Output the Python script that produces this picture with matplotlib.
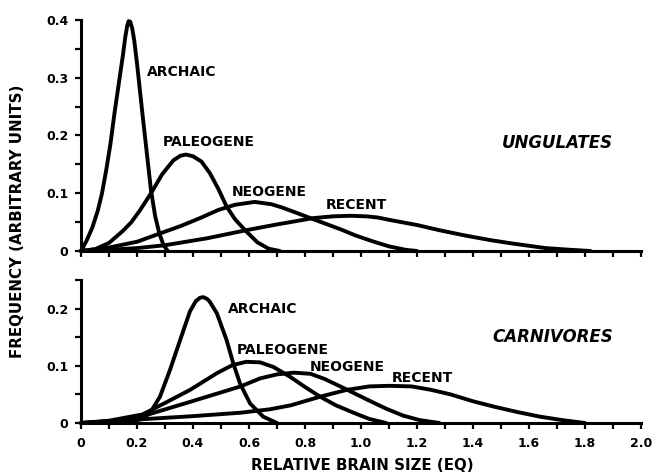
import matplotlib
matplotlib.use("Agg")
import matplotlib.pyplot as plt
from matplotlib.ticker import MultipleLocator, FixedLocator, FixedFormatter

plt.rcParams['font.family'] = ['DejaVu Sans']

# ---------------- data ----------------
# UNGULATES (top panel)
ung_archaic_x = [0.00, 0.02, 0.04, 0.06, 0.075, 0.09, 0.105, 0.12, 0.135, 0.15, 0.158, 0.165, 0.17, 0.176,
                 0.183, 0.19, 0.20, 0.21, 0.22, 0.235, 0.25, 0.265, 0.28, 0.295, 0.31]
ung_archaic_y = [0.000, 0.018, 0.040, 0.070, 0.100, 0.140, 0.185, 0.240, 0.290, 0.340, 0.370, 0.390, 0.398, 0.397,
                 0.385, 0.365, 0.325, 0.280, 0.235, 0.170, 0.105, 0.060, 0.030, 0.010, 0.000]

ung_paleo_x = [0.00, 0.05, 0.10, 0.15, 0.18, 0.21, 0.25, 0.29, 0.33, 0.355, 0.375, 0.40, 0.43,
               0.46, 0.49, 0.52, 0.55, 0.59, 0.63, 0.67, 0.71]
ung_paleo_y = [0.000, 0.003, 0.014, 0.035, 0.050, 0.070, 0.100, 0.133, 0.157, 0.165, 0.167, 0.164, 0.155,
               0.135, 0.108, 0.077, 0.055, 0.034, 0.015, 0.004, 0.000]

ung_neo_x = [0.00, 0.10, 0.20, 0.28, 0.36, 0.43, 0.49, 0.55, 0.62, 0.68, 0.72, 0.77,
             0.83, 0.88, 0.93, 0.98, 1.04, 1.10, 1.16, 1.20]
ung_neo_y = [0.000, 0.006, 0.016, 0.030, 0.044, 0.058, 0.071, 0.080, 0.085, 0.081, 0.075, 0.066,
             0.055, 0.046, 0.037, 0.027, 0.017, 0.008, 0.002, 0.000]

ung_recent_x = [0.00, 0.10, 0.20, 0.30, 0.45, 0.59, 0.70, 0.83, 0.90, 0.96, 1.02, 1.06,
                1.10, 1.20, 1.28, 1.37, 1.46, 1.54, 1.66, 1.75, 1.82]
ung_recent_y = [0.000, 0.002, 0.005, 0.010, 0.022, 0.036, 0.046, 0.057, 0.060, 0.061, 0.060, 0.058,
                0.054, 0.045, 0.036, 0.027, 0.019, 0.013, 0.005, 0.002, 0.000]

# CARNIVORES (bottom panel)
car_archaic_x = [0.00, 0.10, 0.17, 0.21, 0.246, 0.282, 0.318, 0.354, 0.389, 0.41, 0.425, 0.437, 0.45, 0.46,
                 0.485, 0.52, 0.544, 0.568, 0.604, 0.651, 0.70]
car_archaic_y = [0.000, 0.001, 0.003, 0.006, 0.017, 0.046, 0.093, 0.145, 0.195, 0.213, 0.219, 0.220, 0.217, 0.212,
                 0.192, 0.145, 0.104, 0.069, 0.034, 0.011, 0.000]

car_paleo_x = [0.00, 0.10, 0.22, 0.30, 0.39, 0.485, 0.54, 0.59, 0.64, 0.687, 0.746, 0.80,
               0.854, 0.91, 0.973, 1.03, 1.09]
car_paleo_y = [0.000, 0.004, 0.015, 0.035, 0.058, 0.087, 0.101, 0.107, 0.106, 0.098, 0.081, 0.063,
               0.046, 0.031, 0.018, 0.007, 0.000]

car_neo_x = [0.00, 0.10, 0.22, 0.39, 0.57, 0.64, 0.70, 0.76, 0.82, 0.87, 0.93, 0.98,
             1.03, 1.09, 1.15, 1.21, 1.28]
car_neo_y = [0.000, 0.003, 0.012, 0.037, 0.064, 0.078, 0.085, 0.088, 0.086, 0.077, 0.063, 0.051,
             0.039, 0.025, 0.013, 0.005, 0.000]

car_recent_x = [0.00, 0.20, 0.40, 0.57, 0.675, 0.75, 0.854, 0.95, 1.03, 1.10, 1.18, 1.25,
                1.32, 1.40, 1.48, 1.56, 1.64, 1.72, 1.80]
car_recent_y = [0.000, 0.006, 0.012, 0.018, 0.024, 0.031, 0.046, 0.058, 0.064, 0.065, 0.064, 0.058,
                0.050, 0.038, 0.028, 0.019, 0.011, 0.005, 0.000]

period_names = ["ARCHAIC", "PALEOGENE", "NEOGENE", "RECENT"]
panel_names = ["UNGULATES", "CARNIVORES"]

x_ticks = [0.0, 0.2, 0.4, 0.6, 0.8, 1.0, 1.2, 1.4, 1.6, 1.8, 2.0]
x_ticklabels = ["0", "0.2", "0.4", "0.6", "0.8", "1.0", "1.2", "1.4", "1.6", "1.8", "2.0"]
top_yticks = [0.0, 0.1, 0.2, 0.3, 0.4]
top_yticklabels = ["0", "0.1", "0.2", "0.3", "0.4"]
bot_yticks = [0.0, 0.1, 0.2]
bot_yticklabels = ["0", "0.1", "0.2"]

# ---------------- figure ----------------
W, H = 655, 475
fig = plt.figure(figsize=(W / 100, H / 100), dpi=100)

def ax_rect(x0, x1, ytop, ybot):
    return [x0 / W, 1 - ybot / H, (x1 - x0) / W, (ybot - ytop) / H]

ax1 = fig.add_axes(ax_rect(81, 641, 20, 251))
ax2 = fig.add_axes(ax_rect(81, 641, 280, 423))

LW = 2.8
BOLD = dict(fontweight='bold', fontsize=10, color='black')

def style(ax, ymax, yticks, yticklabels, show_x):
    ax.set_xlim(0, 2.0)
    ax.set_ylim(0, ymax)
    for s in ['top', 'right']:
        ax.spines[s].set_visible(False)
    for s in ['left', 'bottom']:
        ax.spines[s].set_linewidth(2.2)
    ax.xaxis.set_major_locator(FixedLocator(x_ticks))
    ax.xaxis.set_minor_locator(MultipleLocator(0.1))
    ax.yaxis.set_major_locator(FixedLocator(yticks))
    ax.yaxis.set_minor_locator(MultipleLocator(0.05))
    ax.yaxis.set_major_formatter(FixedFormatter(yticklabels))
    if show_x:
        ax.xaxis.set_major_formatter(FixedFormatter(x_ticklabels))
    else:
        ax.set_xticklabels([])
    ax.tick_params(which='both', direction='out', length=4, width=1.6, color='black')
    ax.tick_params(axis='x', which='major', pad=6)
    ax.tick_params(axis='y', which='major', pad=5)
    for lab in ax.get_xticklabels() + ax.get_yticklabels():
        lab.set_fontweight('bold')
        lab.set_fontsize(9)

def curve(ax, x, y):
    ax.plot(x, y, color='black', lw=LW, solid_capstyle='round', solid_joinstyle='round', clip_on=False)

curve(ax1, ung_archaic_x, ung_archaic_y)
curve(ax1, ung_paleo_x, ung_paleo_y)
curve(ax1, ung_neo_x, ung_neo_y)
curve(ax1, ung_recent_x, ung_recent_y)

curve(ax2, car_archaic_x, car_archaic_y)
curve(ax2, car_paleo_x, car_paleo_y)
curve(ax2, car_neo_x, car_neo_y)
curve(ax2, car_recent_x, car_recent_y)

style(ax1, 0.4, top_yticks, top_yticklabels, False)
style(ax2, 0.25, bot_yticks, bot_yticklabels, True)

# curve labels
ax1.text(0.236, 0.310, period_names[0], va='center', ha='left', **BOLD)
ax1.text(0.293, 0.189, period_names[1], va='center', ha='left', **BOLD)
ax1.text(0.539, 0.102, period_names[2], va='center', ha='left', **BOLD)
ax1.text(0.875, 0.080, period_names[3], va='center', ha='left', **BOLD)
ax1.text(1.504, 0.187, panel_names[0], va='center', ha='left', fontsize=12,
         fontweight='bold', fontstyle='italic')

ax2.text(0.525, 0.199, period_names[0], va='center', ha='left', **BOLD)
ax2.text(0.557, 0.128, period_names[1], va='center', ha='left', **BOLD)
ax2.text(0.818, 0.098, period_names[2], va='center', ha='left', **BOLD)
ax2.text(1.111, 0.079, period_names[3], va='center', ha='left', **BOLD)
ax2.text(1.468, 0.150, panel_names[1], va='center', ha='left', fontsize=12,
         fontweight='bold', fontstyle='italic')

fig.text(18 / W, 1 - 221 / H, "FREQUENCY (ARBITRARY UNITS)", rotation=90,
         ha='center', va='center', fontsize=10.8, fontweight='bold')
fig.text(362 / W, 1 - 466 / H, "RELATIVE BRAIN SIZE (EQ)",
         ha='center', va='center', fontsize=10.8, fontweight='bold')

fig.savefig("out.png", dpi=100)
